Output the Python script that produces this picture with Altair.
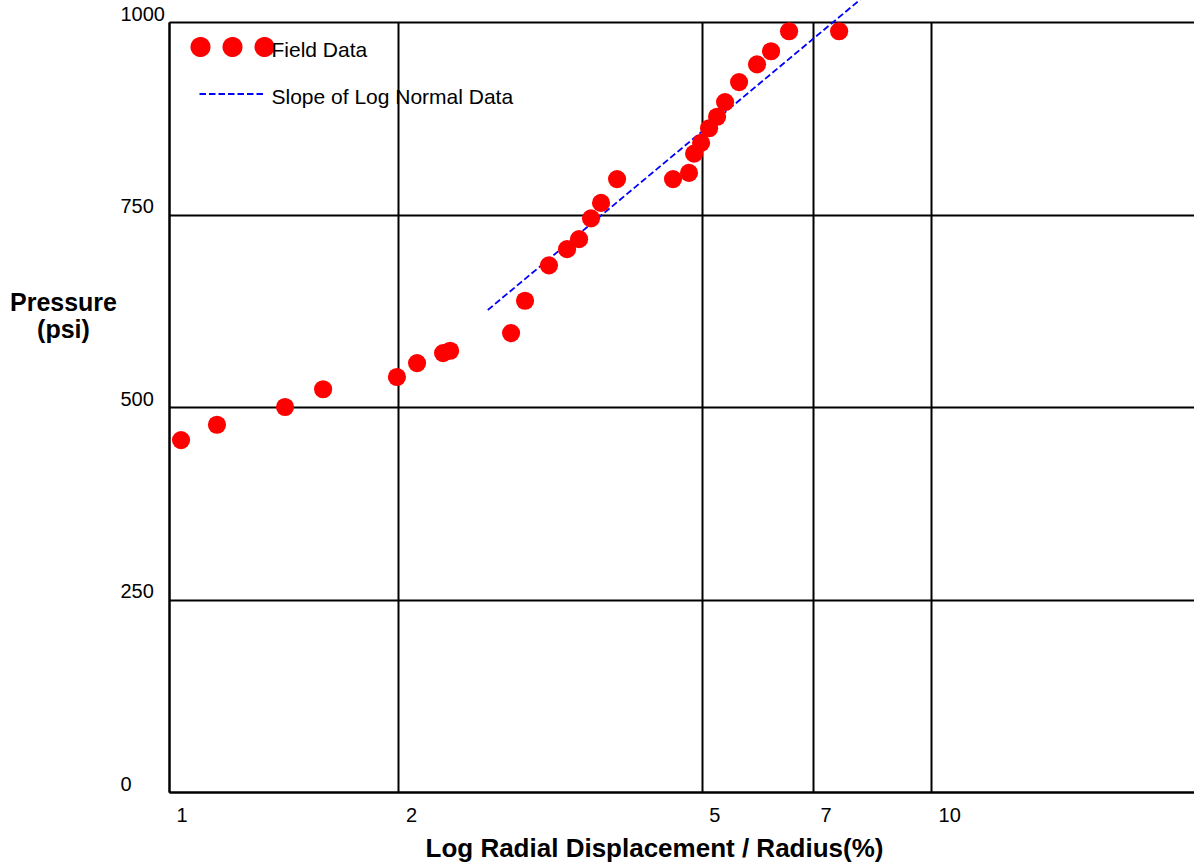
import altair as alt
import pandas as pd

# ---- data ----
series_names = ["Field Data", "Slope of Log Normal Data"]
series_colors = ["#ff0000", "#0000ff"]

field_x = [1.037, 1.156, 1.420, 1.593, 1.991, 2.116, 2.289, 2.338, 2.811, 2.932,
           3.152, 3.329, 3.452, 3.579, 3.689, 3.872, 4.585, 4.812, 4.887, 4.991,
           5.113, 5.238, 5.366, 5.598, 5.910, 6.166, 6.511, 7.574]
field_y = [457, 477, 500, 523, 539, 557, 570, 573, 596, 638,
           684, 705, 718, 745, 765, 796, 796, 804, 829, 843,
           862, 877, 896, 922, 945, 962, 988, 988]

slope_x = [2.62, 8.07]
slope_y = [626, 1029]

x_ticks = [1, 2, 5, 7, 10]
y_ticks = [0, 250, 500, 750, 1000]
x_domain = [1, 22.13]
y_domain = [0, 1000]

pts = pd.DataFrame({"disp": field_x, "pressure": field_y, "series": series_names[0]})
fit = pd.DataFrame({"disp": slope_x, "pressure": slope_y, "series": series_names[1]})

FONT = "Liberation Sans"

# legend glyphs as custom symbol paths (unit = sqrt(symbolSize)/2 = 33 px)
UNIT = 33.0
YOFF = -10.0 / UNIT


def dot(cx, r):
    return (f"M {cx - r:.4f} {YOFF:.4f} A {r:.4f} {r:.4f} 0 1 0 {cx + r:.4f} {YOFF:.4f} "
            f"A {r:.4f} {r:.4f} 0 1 0 {cx - r:.4f} {YOFF:.4f} Z")


R = 9.0 / UNIT
DOTS = " ".join(dot(c, R) for c in (-32 / UNIT, 0.0, 32 / UNIT))
DASH = f"M -1 {YOFF:.4f} L 1 {YOFF:.4f}"
is_field = "datum.value === 'Field Data'"

legend = alt.Legend(
    title=None,
    orient="none",
    legendX=29.5,
    legendY=1,
    padding=0,
    symbolSize=4356,
    symbolStrokeWidth=2,
    symbolType={"expr": f"{is_field} ? '{DOTS}' : '{DASH}'"},
    symbolDash={"expr": f"{is_field} ? [1, 0] : [6.5, 3]"},
    symbolFillColor={"expr": f"{is_field} ? '#ff0000' : 'transparent'"},
    symbolStrokeColor={"expr": f"{is_field} ? '#ff0000' : '#0000ff'"},
    symbolOpacity=1,
    labelFont=FONT,
    labelFontSize=21,
    labelColor="black",
    labelOffset=5,
    labelLimit=600,
    labelBaseline="alphabetic",
    rowPadding=9,
)

color = alt.Color(
    "series:N",
    scale=alt.Scale(domain=series_names, range=series_colors),
    legend=legend,
)

x_enc = alt.X(
    "disp:Q",
    scale=alt.Scale(type="log", domain=x_domain, nice=False),
    axis=alt.Axis(
        values=x_ticks,
        format="d",
        title="Log Radial Displacement / Radius(%)",
        titleFont=FONT,
        titleFontSize=26,
        titleFontWeight="bold",
        titleColor="black",
        titleAlign="center",
        titleBaseline="alphabetic",
        titleX=485,
        titleY=64,
        labelFont=FONT,
        labelFontSize=20,
        labelColor="black",
        labelAlign="left",
        labelBaseline="alphabetic",
        labelPadding=29,
        labelOffset=7,
        labelOverlap=False,
        ticks=False,
        tickSize=0,
        grid=True,
        gridColor="black",
        gridWidth=2,
        gridOpacity=1,
        domainColor="black",
        domainWidth=2,
    ),
)

y_enc = alt.Y(
    "pressure:Q",
    scale=alt.Scale(domain=y_domain, nice=False, zero=False),
    axis=alt.Axis(
        values=y_ticks,
        format="d",
        title=["Pressure", "(psi)"],
        titleFont=FONT,
        titleFontSize=25,
        titleFontWeight="bold",
        titleColor="black",
        titleAngle=0,
        titleAlign="center",
        titleBaseline="alphabetic",
        titleLineHeight=27,
        titleX=-106,
        titleY=288,
        labelFont=FONT,
        labelFontSize=20,
        labelColor="black",
        labelAlign="left",
        labelBaseline="alphabetic",
        labelPadding=49,
        labelOffset=-2,
        labelOverlap=False,
        ticks=False,
        tickSize=0,
        grid=True,
        gridColor="black",
        gridWidth=2,
        gridOpacity=1,
        domainColor="black",
        domainWidth=2,
    ),
)

line = alt.Chart(fit).mark_line(
    strokeDash=[6.5, 3], strokeWidth=1.8, clip=False, opacity=1
).encode(x=x_enc, y=y_enc, color=color)

dots = alt.Chart(pts).mark_circle(size=330, opacity=1).encode(
    x=x_enc, y=y_enc, color=color
)

chart = (
    alt.layer(line, dots)
    .properties(
        width=1025,
        height=770,
        padding={"left": 169, "top": 22, "right": 0, "bottom": 73},
        autosize=alt.AutoSizeParams(type="none"),
        background="white",
    )
    .configure(font=FONT)
    .configure_view(strokeOpacity=0)
)

chart.save("out.html", embed_options={"renderer": "svg", "actions": False})
